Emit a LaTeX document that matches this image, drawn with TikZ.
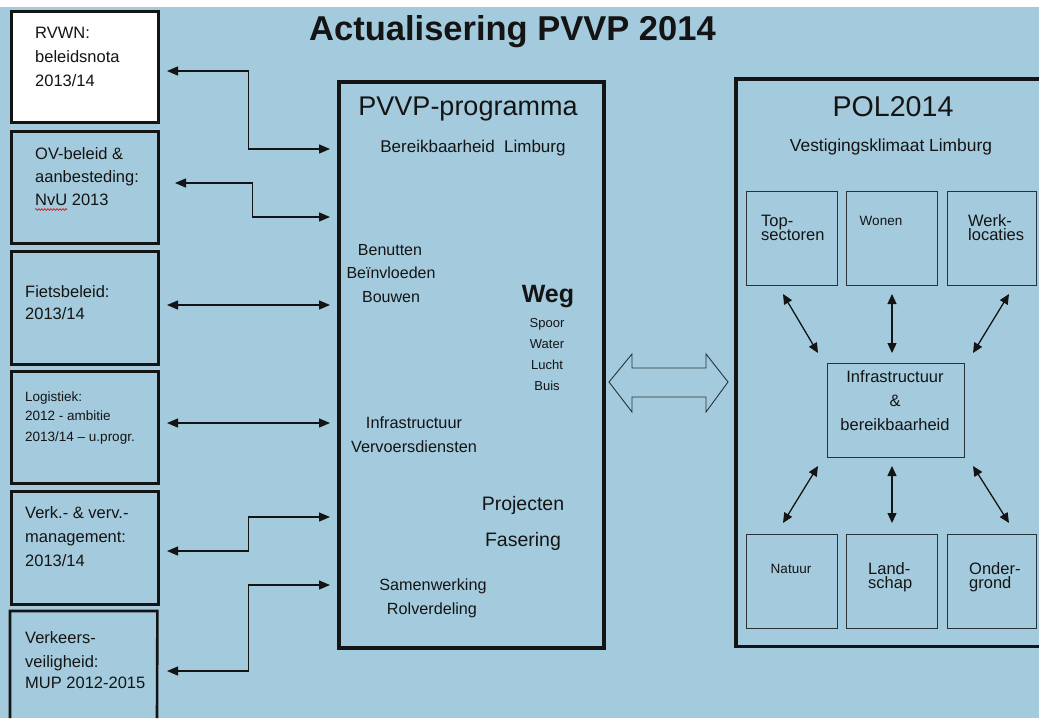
\documentclass[tikz,border=0pt]{standalone}
\usepackage{fontspec}
\setmainfont{Liberation Sans}
\usetikzlibrary{arrows.meta,calc,decorations.pathmorphing}
\definecolor{bg}{RGB}{164,203,221}
\definecolor{ink}{RGB}{20,20,20}
\definecolor{sbox}{RGB}{40,50,55}
\newcommand\myfs[1]{\fontsize{#1}{#1}\selectfont}
\begin{document}
\begin{tikzpicture}[x=1pt,y=-1pt,
  lbox/.style={draw=ink, line width=2.6pt, fill=bg, anchor=north west, inner sep=0pt, minimum width=147pt},
  bigbox/.style={draw=ink, line width=3.6pt, anchor=north west, inner sep=0pt},
  bigline/.style={draw=ink, line width=3.6pt},
  sbx/.style={draw=sbox, line width=1.3pt, anchor=north west, inner sep=0pt},
  lt/.style={anchor=base west, inner sep=0pt, text=ink, font=\myfs{16.5}},
  ct/.style={anchor=base, inner sep=0pt, text=ink},
  larr/.style={draw=ink, line width=1.3pt, {Triangle[length=11pt,width=9pt]}-{Triangle[length=11pt,width=9pt]}},
  sarr/.style={draw=ink, line width=1.3pt, {Triangle[length=10pt,width=9pt]}-{Triangle[length=10pt,width=9pt]}},
  hollow/.style={draw=sbox, line width=0.9pt, fill=bg}
]
\path[use as bounding box] (0,0) rectangle (1039,718);
% background
\fill[bg] (0,0) rectangle (1039,718);
\fill[white] (0,0) rectangle (1039,7);

% title
\node[ct, font=\myfs{34.5}\bfseries] (title) at (512.5,40) {Actualisering PVVP 2014};

% left boxes
\node[lbox, fill=white, minimum height=111pt] (b1) at (10,10) {};
\node[lbox, minimum height=112pt] (b2) at (10,130) {};
\node[lbox, minimum height=113pt] (b3) at (10,250) {};
\node[lbox, minimum height=112pt] (b4) at (10,370) {};
\node[lbox, minimum height=113pt] (b5) at (10,490) {};
\coordinate (b6a) at (10,718);
\coordinate (b6b) at (157,718);
\node[anchor=north west, inner sep=0pt, minimum width=147pt, minimum height=107pt] (b6) at (10,611) {};
\draw[draw=ink, line width=2.6pt] (b6a) -- (b6.north west) -- (b6.north east) -- (b6b);

\node[lt] (t1a) at (35,38.5) {RVWN:};
\node[lt] (t1b) at (35,62.5) {beleidsnota};
\node[lt] (t1c) at (35,86.5) {2013/14};
\node[lt] (t2a) at (35,159.5) {OV-beleid \&};
\node[lt] (t2b) at (35,182.5) {aanbesteding:};
\node[lt] (t2c) at (35,205.5) {NvU 2013};
\coordinate (sq1) at (35,209.5);
\coordinate (sq2) at (67,209.5);
\draw[red!85!black, line width=0.6pt, decorate, decoration={snake, amplitude=0.9pt, segment length=3pt}] (sq1) -- (sq2);
\node[lt] (t3a) at (25,297.5) {Fietsbeleid:};
\node[lt] (t3b) at (25,319.5) {2013/14};
\node[lt, font=\myfs{13.5}] (t4a) at (25,401.5) {Logistiek:};
\node[lt, font=\myfs{13.5}] (t4b) at (25,420.5) {2012 - ambitie};
\node[lt, font=\myfs{13.5}] (t4c) at (25,441.5) {2013/14 – u.progr.};
\node[lt] (t5a) at (25,518.5) {Verk.- \& verv.-};
\node[lt] (t5b) at (25,542.5) {management:};
\node[lt] (t5c) at (25,566.5) {2013/14};
\node[lt] (t6a) at (25,643.5) {Verkeers-};
\node[lt] (t6b) at (25,667.5) {veiligheid:};
\node[lt] (t6c) at (25,688.5) {MUP 2012-2015};

% PVVP box
\node[bigbox, minimum width=265pt, minimum height=566pt] (pv) at (337,80) {};
\node[ct, font=\myfs{27}] (pvt) at (468,115) {PVVP-programma};
\node[ct, font=\myfs{17}] (pvs) at (473,152) {Bereikbaarheid\ \ Limburg};
\node[ct, font=\myfs{16}] (m1) at (390,255) {Benutten};
\node[ct, font=\myfs{16}] (m2) at (391,278) {Beïnvloeden};
\node[ct, font=\myfs{16}] (m3) at (391,302) {Bouwen};
\node[ct, font=\myfs{25}\bfseries] (w0) at (548,302) {Weg};
\node[ct, font=\myfs{13}] (w1) at (547,327) {Spoor};
\node[ct, font=\myfs{13}] (w2) at (547,348) {Water};
\node[ct, font=\myfs{13}] (w3) at (547,369) {Lucht};
\node[ct, font=\myfs{13}] (w4) at (547,390) {Buis};
\node[ct, font=\myfs{16.3}] (i1) at (414,428) {Infrastructuur};
\node[ct, font=\myfs{16.3}] (i2) at (414,452) {Vervoersdiensten};
\node[ct, font=\myfs{19.5}] (p1) at (523,510) {Projecten};
\node[ct, font=\myfs{19.5}] (p2) at (523,546) {Fasering};
\node[ct, font=\myfs{16.2}] (s1) at (433,590) {Samenwerking};
\node[ct, font=\myfs{16.2}] (s2) at (432,614) {Rolverdeling};

% left connectors
\coordinate (a1l) at (167,71);  \coordinate (a1r) at (330,149);
\coordinate (a2l) at (175,183); \coordinate (a2r) at (330,217);
\coordinate (a3l) at (167,305); \coordinate (a3r) at (330,305);
\coordinate (a4l) at (167,423); \coordinate (a4r) at (330,423);
\coordinate (a5l) at (167,551); \coordinate (a5r) at (330,517);
\coordinate (a6l) at (167,671); \coordinate (a6r) at (330,585);
\draw[larr] (a1l) -| ($(a1l)!.5!(a1r)$) |- (a1r);
\draw[larr] (a2l) -| ($(a2l)!.5!(a2r)$) |- (a2r);
\draw[larr] (a3l) -- (a3r);
\draw[larr] (a4l) -- (a4r);
\draw[larr] (a5l) -| ($(a5l)!.5!(a5r)$) |- (a5r);
\draw[larr] (a6l) -| ($(a6l)!.5!(a6r)$) |- (a6r);

% hollow double arrow
\draw[hollow] (609,382) -- (632,354) -- (632,368) -- (706,368) -- (706,354) -- (728,382)
  -- (706,412) -- (706,397) -- (632,397) -- (632,412) -- cycle;

% POL box (its right side runs off the picture)
\node[anchor=north west, inner sep=0pt, minimum width=303pt, minimum height=567pt] (pol) at (736,79) {};
\draw[bigline] (pol.north east) -- (pol.north west) -- (pol.south west) -- (pol.south east);
\node[ct, font=\myfs{28.6}] (polt) at (893,116) {POL2014};
\node[ct, font=\myfs{17.4}] (pols) at (891,151) {Vestigingsklimaat Limburg};

\node[sbx, minimum width=91pt, minimum height=94pt] (top) at (746,191) {};
\node[sbx, minimum width=91pt, minimum height=94pt] (won) at (846,191) {};
\node[sbx, minimum width=89pt, minimum height=94pt] (wrk) at (947,191) {};
\node[sbx, minimum width=91pt, minimum height=94pt] (nat) at (746,534) {};
\node[sbx, minimum width=91pt, minimum height=94pt] (lan) at (846,534) {};
\node[sbx, minimum width=89pt, minimum height=94pt] (ond) at (947,534) {};
\node[sbx, minimum width=137pt, minimum height=94pt] (inf) at (827,363) {};

\node[lt, font=\myfs{16.5}] (tp1) at (761,226) {Top-};
\node[lt, font=\myfs{16.5}] (tp2) at (761,240.5) {sectoren};
\node[ct, font=\myfs{13.5}] (wo1) at (881,225) {Wonen};
\node[lt, font=\myfs{16.5}] (wk1) at (968,226) {Werk-};
\node[lt, font=\myfs{16.5}] (wk2) at (968,240.5) {locaties};
\node[ct, font=\myfs{13.5}] (na1) at (791,573) {Natuur};
\node[lt, font=\myfs{16.5}] (la1) at (868,574) {Land-};
\node[lt, font=\myfs{16.5}] (la2) at (868,588.5) {schap};
\node[lt, font=\myfs{16.5}] (on1) at (969,574) {Onder-};
\node[lt, font=\myfs{16.5}] (on2) at (969,588.5) {grond};
\node[ct, font=\myfs{16.5}] (if1) at (895,382) {Infrastructuur};
\node[ct, font=\myfs{16.5}] (if2) at (895,406) {\&};
\node[ct, font=\myfs{16.5}] (if3) at (895,430) {bereikbaarheid};

% POL connectors
\coordinate (c1a) at (783,294);  \coordinate (c1b) at (818,353);
\coordinate (c2a) at (892,294);  \coordinate (c2b) at (892,353);
\coordinate (c3a) at (1009,294); \coordinate (c3b) at (973,353);
\coordinate (c4a) at (818,466);  \coordinate (c4b) at (783,523);
\coordinate (c5a) at (892,466);  \coordinate (c5b) at (892,523);
\coordinate (c6a) at (973,466);  \coordinate (c6b) at (1009,523);
\draw[sarr] (c1a) -- (c1b);
\draw[sarr] (c2a) -- (c2b);
\draw[sarr] (c3a) -- (c3b);
\draw[sarr] (c4a) -- (c4b);
\draw[sarr] (c5a) -- (c5b);
\draw[sarr] (c6a) -- (c6b);
\end{tikzpicture}
\end{document}
